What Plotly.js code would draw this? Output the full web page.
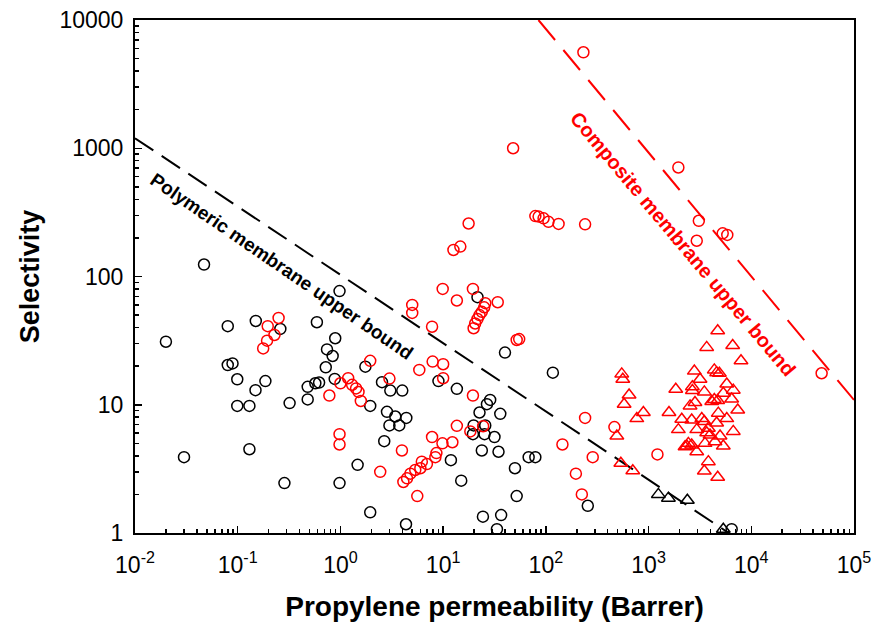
<!DOCTYPE html>
<html>
<head>
<meta charset="utf-8">
<script src="https://cdn.plot.ly/plotly-3.0.1.min.js"></script>
<style>html,body{margin:0;padding:0;background:#fff;}#chart{width:875px;height:629px;}</style>
</head>
<body>
<div id="chart"></div>
<script>
// ---- data ----
const blackCircleX = [0.047, 0.02, 0.08, 0.15, 0.26, 0.98, 0.59, 0.89, 0.74, 0.84, 0.72, 0.080, 0.089, 0.099, 0.186, 0.149, 0.099, 0.13, 0.32, 0.48, 0.57, 0.62, 0.48, 0.88, 1.75, 1.95, 0.03, 0.13, 0.285, 0.98, 1.47, 1.95, 2.54, 3.06, 4.0, 2.84, 3.42, 4.38, 3.0, 3.74, 2.67, 4.35, 9.0, 13.6, 21.6, 28.7, 26.7, 22.6, 36, 19.8, 25.7, 19.5, 25.3, 31.6, 23.8, 34.6, 11.9, 15, 40, 68, 79, 50, 52, 24.4, 36.7, 33.4, 117, 256, 6440];
const blackCircleY = [124, 31, 41, 45, 39, 77, 44, 33, 27, 24, 19.6, 20.4, 21, 15.8, 15.3, 13, 9.8, 9.8, 10.3, 13.8, 14.7, 14.9, 11, 15.9, 19.8, 9.8, 3.9, 4.5, 2.45, 2.45, 3.4, 1.45, 15, 12.9, 12.9, 8.8, 8.1, 7.9, 6.9, 6.9, 5.2, 1.17, 15.3, 13.3, 69, 10.9, 10.1, 8.7, 8.5, 6.9, 6.9, 5.9, 5.9, 5.6, 4.4, 4.3, 3.7, 2.56, 25.5, 3.9, 3.9, 3.2, 1.94, 1.34, 1.38, 1.07, 17.8, 1.63, 1.07];

const blackTriangleX = [1245, 1560, 2385, 5340];
const blackTriangleY = [2.0, 1.87, 1.8, 1.07];

const redCircleX = [0.25, 0.196, 0.228, 0.193, 0.177, 1.95, 1.19, 1.0, 1.3, 1.42, 1.5, 1.58, 0.78, 0.98, 0.98, 2.44, 3.0, 5.86, 7.9, 10, 10, 5.0, 5.0, 7.8, 9.9, 19.5, 13.6, 34, 25.7, 25.1, 23.8, 22.6, 21.6, 20.5, 19.8, 52, 55, 19.5, 13.6, 18.4, 24.5, 7.8, 9.85, 12.3, 3.97, 8.6, 8.4, 6.95, 6.2, 6.0, 5.35, 4.8, 4.45, 4.1, 5.6, 17.7, 12.6, 14.7, 48, 232, 79, 85, 95, 106, 133, 241, 1950, 3085, 2945, 5270, 5840, 48400, 241, 465, 145, 286, 196, 224, 1220];
const redCircleY = [47.5, 41, 35, 31.6, 27.5, 22, 16.1, 14.7, 14.3, 13.4, 12.6, 10.7, 11.8, 5.9, 4.9, 3.0, 16, 18.7, 21.7, 20.7, 16.1, 60, 52, 40.6, 80, 80, 65, 63, 62, 57.5, 53, 50, 46.6, 43, 39.5, 32, 32.5, 11.8, 6.85, 6.2, 6.8, 5.6, 5.0, 5.1, 4.4, 4.2, 3.9, 3.45, 3.6, 3.2, 3.1, 2.9, 2.67, 2.5, 1.94, 259, 161, 171, 1000, 5600, 296, 293, 284, 267, 257, 255, 708, 272, 190, 217, 211, 17.6, 7.9, 6.7, 4.9, 3.9, 2.9, 2.0, 4.1];

const redTriangleX = [548, 561, 646, 578, 890, 768, 491, 537, 702,
  4710, 3680, 6590, 7940, 2790, 4365, 4600, 4890, 3170, 1840, 2670, 2670, 3490, 5770, 6680, 5340, 4365, 4710, 4120, 2830, 6440, 2535, 1580, 7380, 4775, 5770, 2105, 3295, 3490, 2630, 4600, 1950, 2945, 3820, 3680, 3965, 6680, 4965, 4435, 3545, 2440, 2355, 2630, 2265, 5340, 2945, 3820, 3490, 4710];
const redTriangleY = [17.4, 15.8, 11.9, 10.1, 8.7, 7.8, 5.7, 3.5, 3.06,
  37.8, 28, 29, 22, 18.3, 18.7, 17.8, 17.6, 15.8, 13.2, 13.8, 12.9, 12.6, 14.5, 13.0, 12.3, 11.0, 10.8, 10.6, 10.4, 11.1, 9.8, 8.7, 9.1, 8.6, 7.8, 7.7, 7.8, 7.4, 7.6, 7.2, 6.4, 6.4, 6.55, 6.05, 5.8, 6.2, 5.7, 5.15, 5.0, 5.0, 4.77, 4.86, 4.7, 4.77, 4.3, 3.6, 3.04, 2.72];

// upper bound lines (end points)
const polymerBoundX = [0.01, 6030];
const polymerBoundY = [1197, 1];
const compositeBoundX = [84.7, 100000];
const compositeBoundY = [10000, 10.9];

// axis ticks
const xTickVals = [0.01, 0.1, 1, 10, 100, 1000, 10000, 100000];
const xTickText = ['10<sup>-2</sup>', '10<sup>-1</sup>', '10<sup>0</sup>', '10<sup>1</sup>', '10<sup>2</sup>', '10<sup>3</sup>', '10<sup>4</sup>', '10<sup>5</sup>'];
const yTickVals = [1, 10, 100, 1000, 10000];
const yTickText = ['1', '10', '100', '1000', '10000'];

// minor ticks at 2..9 of each decade
function minorTicks(lo, hi) {
  const out = [];
  for (let e = lo; e < hi; e++) for (let d = 2; d <= 9; d++) out.push(d * Math.pow(10, e));
  return out;
}

const FONT = 'Liberation Sans, Arial, sans-serif';

const traces = [
  {x: polymerBoundX, y: polymerBoundY, mode: 'lines', type: 'scatter',
   line: {color: 'black', width: 2, dash: '22px,10px'}, hoverinfo: 'skip'},
  {x: compositeBoundX, y: compositeBoundY, mode: 'lines', type: 'scatter',
   line: {color: '#ff0000', width: 2, dash: '26px,13px'}, hoverinfo: 'skip'},
  {x: blackCircleX, y: blackCircleY, mode: 'markers', type: 'scatter',
   marker: {symbol: 'circle-open', size: 11, color: 'black', line: {width: 1.5, color: 'black'}}},
  {x: blackTriangleX, y: blackTriangleY, mode: 'markers', type: 'scatter',
   marker: {symbol: 'triangle-up-open', size: 12, color: 'black', line: {width: 1.5, color: 'black'}}},
  {x: redTriangleX, y: redTriangleY, mode: 'markers', type: 'scatter',
   marker: {symbol: 'triangle-up-open', size: 12, color: '#ff0000', line: {width: 1.5, color: '#ff0000'}}},
  {x: redCircleX, y: redCircleY, mode: 'markers', type: 'scatter',
   marker: {symbol: 'circle-open', size: 11, color: '#ff0000', line: {width: 1.5, color: '#ff0000'}}}
];

const axisCommon = {
  type: 'log', showgrid: false, zeroline: false,
  showline: true, linecolor: 'black', linewidth: 2, mirror: true,
  ticks: 'inside', ticklen: 7, tickwidth: 1.5, tickcolor: 'black',
  tickmode: 'array',
  tickfont: {family: FONT, size: 23, color: 'black'}
};

const layout = {
  width: 875, height: 629,
  margin: {l: 135, r: 21, t: 20, b: 96},
  paper_bgcolor: 'white', plot_bgcolor: 'white',
  showlegend: false,
  xaxis: Object.assign({}, axisCommon, {
    range: [-2, 5], tickvals: xTickVals, ticktext: xTickText, ticklabelstandoff: 10,
    minor: {tickmode: 'array', tickvals: minorTicks(-2, 5), ticks: 'inside', ticklen: 4, tickwidth: 1.5, tickcolor: 'black', showgrid: false},
    title: {text: '<b>Propylene permeability (Barrer)</b>', font: {family: FONT, size: 28, color: 'black'}, standoff: 20}
  }),
  yaxis: Object.assign({}, axisCommon, {
    range: [0, 4], tickvals: yTickVals, ticktext: yTickText, ticklabelstandoff: 5,
    minor: {tickmode: 'array', tickvals: minorTicks(0, 4), ticks: 'inside', ticklen: 4, tickwidth: 1.5, tickcolor: 'black', showgrid: false},
    title: {text: '<b>Selectivity</b>', font: {family: FONT, size: 27, color: 'black'}, standoff: 12}
  }),
  annotations: [
    {x: Math.log10(0.27), y: Math.log10(120), xref: 'x', yref: 'y', text: '<b>Polymeric membrane upper bound</b>',
     showarrow: false, textangle: 34.5, font: {family: FONT, size: 19, color: 'black'}},
    {x: Math.log10(2170), y: Math.log10(179), xref: 'x', yref: 'y', text: '<b>Composite membrane upper bound</b>',
     showarrow: false, textangle: 50, font: {family: FONT, size: 20, color: '#ff0000'}}
  ]
};

Plotly.newPlot('chart', traces, layout, {displayModeBar: false, staticPlot: true});
</script>
</body>
</html>
